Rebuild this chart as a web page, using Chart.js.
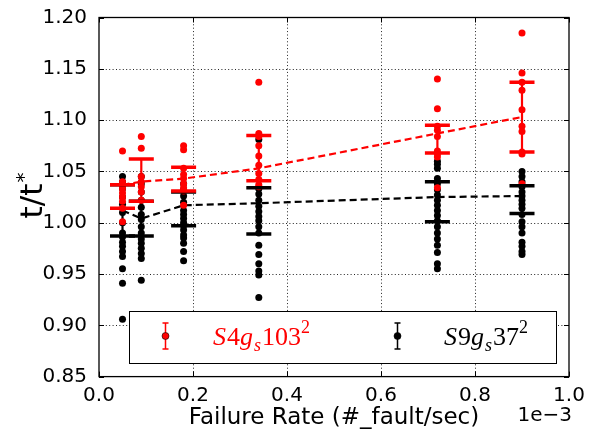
<!DOCTYPE html>
<html><head><meta charset="utf-8">
<script src="https://cdn.jsdelivr.net/npm/chart.js@4/dist/chart.umd.min.js"></script>
<style>html,body{margin:0;padding:0;background:#fff;}</style>
</head><body>
<canvas id="c" width="598" height="432" style="display:block;width:598px;height:432px"></canvas>
<script>
// Failure rate (units of 1e-3 fault/sec)
const failureRates = [0.05, 0.09, 0.18, 0.34, 0.72, 0.90];

// Individual runs, t/t*
const redPoints = [
  [1.070, 1.040, 1.036, 1.033, 1.029, 1.025, 1.021, 1.014, 1.001],
  [1.084, 1.0725, 1.045, 1.040, 1.035, 1.030, 1.022],
  [1.075, 1.071, 1.053, 1.047, 1.043, 1.038, 1.034, 1.031, 1.017],
  [1.137, 1.087, 1.084, 1.075, 1.065, 1.056, 1.048, 1.042, 1.037, 1.035],
  [1.140, 1.111, 1.094, 1.090, 1.084, 1.070, 1.067, 1.064, 1.034],
  [1.185, 1.146, 1.137, 1.129, 1.110, 1.094, 1.089, 1.069, 1.067, 1.038]
];
const blackPoints = [
  [1.045, 1.040, 1.033, 1.025, 1.018, 1.010, 1.000, 0.990, 0.986, 0.981, 0.977, 0.972, 0.967, 0.955, 0.941, 0.906],
  [1.045, 1.038, 1.030, 1.022, 1.015, 1.008, 1.003, 0.996, 0.990, 0.984, 0.980, 0.975, 0.970, 0.965, 0.944],
  [1.038, 1.032, 1.026, 1.020, 1.012, 1.008, 1.004, 1.000, 0.997, 0.993, 0.988, 0.985, 0.980, 0.972, 0.963],
  [1.081, 1.033, 1.028, 1.022, 1.016, 1.011, 1.006, 1.002, 0.996, 0.990, 0.978, 0.969, 0.960, 0.953, 0.949, 0.927],
  [1.060, 1.057, 1.053, 1.043, 1.038, 1.032, 1.027, 1.022, 1.017, 1.012, 1.007, 1.002, 0.996, 0.990, 0.984, 0.978, 0.971, 0.960, 0.955],
  [1.050, 1.045, 1.040, 1.035, 1.030, 1.026, 1.022, 1.018, 1.014, 1.008, 1.001, 0.996, 0.990, 0.981, 0.977, 0.972, 0.969]
];

// Error bar extents
const redLow   = [1.014, 1.021, 1.031, 1.041, 1.068, 1.069];
const redHigh  = [1.037, 1.062, 1.054, 1.085, 1.095, 1.137];
const blackLow  = [0.987, 0.987, 0.997, 0.989, 1.001, 1.009];
const blackHigh = [1.037, 1.021, 1.030, 1.034, 1.040, 1.036];

// Dashed trend lines
const redLine   = [1.037, 1.040, 1.043, 1.053, 1.087, 1.103];
const blackLine = [1.012, 1.004, 1.017, 1.019, 1.025, 1.026];

const xTicks = [0.0, 0.2, 0.4, 0.6, 0.8, 1.0];
const yTicks = [0.85, 0.90, 0.95, 1.00, 1.05, 1.10, 1.15, 1.20];

const RED = '#ff0000', BLACK = '#000000';

function pts(xs, arrs){ const o=[]; xs.forEach((x,i)=>arrs[i].forEach(y=>o.push({x,y}))); return o; }
function caps(xs, lo, hi){ const o=[]; xs.forEach((x,i)=>{o.push({x,y:lo[i]});o.push({x,y:hi[i]});}); return o; }
function vbars(xs, lo, hi){ const o=[]; xs.forEach((x,i)=>{o.push({x,y:lo[i]});o.push({x,y:hi[i]});o.push({x,y:null});}); return o; }
function line(xs, ys){ return xs.map((x,i)=>({x,y:ys[i]})); }

const framePlugin = {
  id:'frame',
  beforeDatasetsDraw(chart){
    const {ctx, chartArea:a, scales:{x,y}} = chart;
    ctx.save();
    ctx.strokeStyle = '#222'; ctx.lineWidth = 1; ctx.setLineDash([1,2.4]);
    xTicks.slice(1,-1).forEach(v=>{ const px=Math.round(x.getPixelForValue(v))+0.5; ctx.beginPath(); ctx.moveTo(px,a.top); ctx.lineTo(px,a.bottom); ctx.stroke(); });
    yTicks.slice(1,-1).forEach(v=>{ const py=Math.round(y.getPixelForValue(v))+0.5; ctx.beginPath(); ctx.moveTo(a.left,py); ctx.lineTo(a.right,py); ctx.stroke(); });
    ctx.restore();
  },
  afterDatasetsDraw(chart){
    const {ctx, chartArea:a, scales:{x,y}} = chart;
    ctx.save();
    ctx.strokeStyle = '#000'; ctx.lineWidth = 1; ctx.setLineDash([]);
    const L=5;
    xTicks.forEach(v=>{ const px=Math.round(x.getPixelForValue(v))+0.5; ctx.beginPath(); ctx.moveTo(px,a.bottom); ctx.lineTo(px,a.bottom-L); ctx.moveTo(px,a.top); ctx.lineTo(px,a.top+L); ctx.stroke(); });
    yTicks.forEach(v=>{ const py=Math.round(y.getPixelForValue(v))+0.5; ctx.beginPath(); ctx.moveTo(a.left,py); ctx.lineTo(a.left+L,py); ctx.moveTo(a.right,py); ctx.lineTo(a.right-L,py); ctx.stroke(); });
    ctx.lineWidth = 1.3;
    ctx.strokeRect(a.left, a.top, a.right-a.left, a.bottom-a.top);

    // Legend
    const bx=129, by=311, bw=427, bh=52;
    ctx.fillStyle='#fff'; ctx.fillRect(bx,by,bw,bh);
    ctx.strokeStyle='#000'; ctx.lineWidth=1; ctx.strokeRect(bx+0.5,by+0.5,bw,bh);
    function marker(cx, color){
      ctx.strokeStyle=color; ctx.lineWidth=1.5;
      ctx.beginPath(); ctx.moveTo(cx,323); ctx.lineTo(cx,349);
      ctx.moveTo(cx-3,323); ctx.lineTo(cx+3,323); ctx.moveTo(cx-3,349); ctx.lineTo(cx+3,349); ctx.stroke();
      ctx.fillStyle=color; ctx.beginPath(); ctx.arc(cx,336,3.5,0,Math.PI*2); ctx.fill();
      ctx.strokeStyle='#000'; ctx.lineWidth=0.6; ctx.stroke();
    }
    function mathText(x0, base, parts, color){
      let xx=x0; ctx.fillStyle=color; ctx.textBaseline='alphabetic'; ctx.textAlign='left';
      parts.forEach(p=>{
        const size = p.s ? 18 : 26;
        ctx.font = (p.i?'italic ':'') + size + 'px "Liberation Serif", "DejaVu Serif", serif';
        const dy = p.s==='sub' ? 6 : (p.s==='sup' ? -12 : 0);
        ctx.fillText(p.t, xx, base+dy);
        xx += ctx.measureText(p.t).width + (p.i ? 1 : 0);
      });
    }
    marker(165.5, RED);
    mathText(213, 345, [{t:'S',i:1},{t:'4'},{t:'g',i:1},{t:'s',i:1,s:'sub'},{t:'103'},{t:'2',s:'sup'}], RED);
    marker(397.5, BLACK);
    mathText(444, 345, [{t:'S',i:1},{t:'9'},{t:'g',i:1},{t:'s',i:1,s:'sub'},{t:'37'},{t:'2',s:'sup'}], BLACK);

    // Axis titles
    ctx.fillStyle='#000';
    ctx.font='23px "DejaVu Sans", sans-serif'; ctx.textAlign='center'; ctx.textBaseline='alphabetic';
    ctx.fillText('Failure Rate (#_fault/sec)', (a.left+a.right)/2, 424);
    ctx.font='20px "DejaVu Sans", sans-serif'; ctx.textAlign='right';
    ctx.fillText('1e\u22123', 572, 421);
    ctx.save();
    ctx.translate(42, 195); ctx.rotate(-Math.PI/2);
    ctx.font='31px "DejaVu Sans", sans-serif'; ctx.textAlign='center';
    ctx.fillText('t/t', -6, 0);
    const w = ctx.measureText('t/t').width;
    ctx.font='20px "DejaVu Sans", sans-serif'; ctx.textAlign='left';
    ctx.fillText('*', -6 + w/2 + 1, -12);
    ctx.restore();
    ctx.restore();
  }
};

new Chart(document.getElementById('c'), {
  type:'scatter',
  data:{ datasets:[
    {type:'line', data:line(failureRates, blackLine), borderColor:BLACK, borderWidth:2.2, borderDash:[7,4], pointRadius:0, fill:false, order:10},
    {type:'line', data:line(failureRates, redLine), borderColor:RED, borderWidth:2.2, borderDash:[7,4], pointRadius:0, fill:false, order:9},
    {type:'line', data:vbars(failureRates, redLow, redHigh), borderColor:RED, borderWidth:2.2, pointRadius:0, spanGaps:false, fill:false, order:8},
    {type:'line', data:vbars(failureRates, blackLow, blackHigh), borderColor:BLACK, borderWidth:2.2, pointRadius:0, spanGaps:false, fill:false, order:7},
    {data:pts(failureRates, blackPoints), backgroundColor:BLACK, borderWidth:0, pointRadius:3.5, order:6},
    {data:pts(failureRates, redPoints), backgroundColor:RED, borderWidth:0, pointRadius:3.5, order:5},
    {data:caps(failureRates, blackLow, blackHigh), pointStyle:'line', borderColor:BLACK, borderWidth:3.5, pointBorderWidth:3.5, pointRadius:12.5, order:4},
    {data:caps(failureRates, redLow, redHigh), pointStyle:'line', borderColor:RED, borderWidth:3.5, pointBorderWidth:3.5, pointRadius:12.5, order:3}
  ]},
  options:{
    responsive:false, animation:false, events:[],
    layout:{padding:{top:17.5, right:29, left:0, bottom:0}},
    plugins:{legend:{display:false}, tooltip:{enabled:false}},
    scales:{
      x:{type:'linear', min:0, max:1.0,
        afterBuildTicks(s){ s.ticks = xTicks.map(v=>({value:v})); },
        afterFit(s){ s.height = 55.4; },
        grid:{display:false}, border:{display:false},
        ticks:{padding:-1, color:'#000', font:{family:'"DejaVu Sans", sans-serif', size:20}, callback:v=>v.toFixed(1), maxRotation:0, autoSkip:false}},
      y:{type:'linear', min:0.85, max:1.20,
        afterBuildTicks(s){ s.ticks = yTicks.map(v=>({value:v})); },
        afterFit(s){ s.width = 99; },
        grid:{display:false}, border:{display:false},
        ticks:{padding:4, color:'#000', font:{family:'"DejaVu Sans", sans-serif', size:20}, callback:v=>v.toFixed(2), autoSkip:false}}
    }
  },
  plugins:[framePlugin]
});
</script>
</body></html>
